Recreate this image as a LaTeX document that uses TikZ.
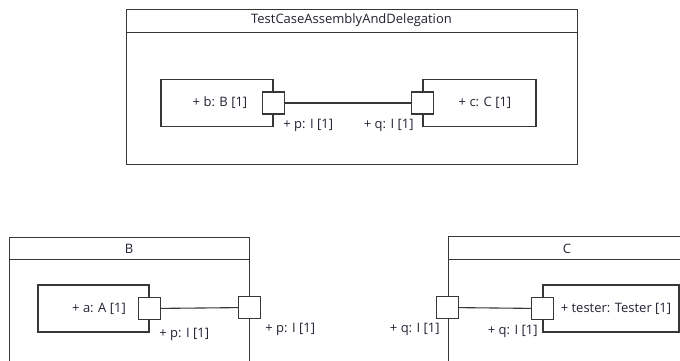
\documentclass[tikz,border=0pt]{standalone}
\usepackage{fontspec}
\setmainfont{Open Sans}
\usetikzlibrary{positioning}
\definecolor{linie}{RGB}{55,55,55}
\definecolor{schrift}{RGB}{38,32,50}

\begin{document}
\begin{tikzpicture}[x=1pt, y=-1pt, font=\fontsize{13}{15}\selectfont, text=schrift,
    rahmen/.style={draw=linie, line width=1pt},
    teil/.style={draw=linie, line width=1.2pt, minimum width=#1, minimum height=47pt, inner sep=0pt},
    port/.style={draw=linie, line width=1.2pt, fill=white, minimum size=22pt, inner sep=0pt},
    verb/.style={draw=linie, line width=1.1pt},
    beschr/.style={inner sep=0pt}]
    \useasboundingbox (0,0) rectangle (680,360);
    \clip (0,0) rectangle (680,360);

    % TestCaseAssemblyAndDelegation
    \draw[rahmen] (126,9) rectangle (577,164);
    \draw[rahmen] (126,32) -- (577,32);
    \node (titel) at (351.5,20.5) {TestCaseAssemblyAndDelegation};
    \node[teil=112] (b) at (217,103) {\hspace*{6pt}+ b: B [1]};
    \node[port] (p) at (b.east) {};
    \node[teil=113] (c) at (479.5,103) {\hspace*{11pt}+ c: C [1]};
    \node[port] (q) at (c.west) {};
    \draw[verb] (p) -- (q);
    \node[beschr, below right=4pt and -2pt of p] (pname) {+ p: I [1]};
    \node[beschr, below left=4pt and -3pt of q] (qname) {+ q: I [1]};

    % Klasse B
    \draw[rahmen] (9,237) rectangle (249,380);
    \draw[rahmen] (9,259) -- (249,259);
    \node (titelB) at (129,248.5) {B};
    \node[teil=111] (a) at (93.5,308.5) {\hspace*{11pt}+ a: A [1]};
    \node[port] (pa) at (a.east) {};
    \node[port] (pb) at (249.5,307.5) {};
    \draw[verb] (pa) -- (pb);
    \node[beschr, below right=8pt and -2pt of pa] (paname) {+ p: I [1]};
    \node[beschr, below right=4pt and 4pt of pb] (pbname) {+ p: I [1]};

    % Klasse C
    \draw[rahmen] (448,236) rectangle (700,380);
    \draw[rahmen] (448,259) -- (700,259);
    \node (titelC) at (567,248.5) {C};
    \node[teil=136] (tester) at (611,308.5) {\hspace*{10pt}+ tester: Tester [1]};
    \node[port] (qt) at (tester.west) {};
    \node[port] (qc) at (447.5,307.5) {};
    \draw[verb] (qc) -- (qt);
    \node[beschr, below left=4pt and -4pt of qc] (qcname) {+ q: I [1]};
    \node[beschr, below left=5pt and -7pt of qt] (qtname) {+ q: I [1]};
\end{tikzpicture}
\end{document}
